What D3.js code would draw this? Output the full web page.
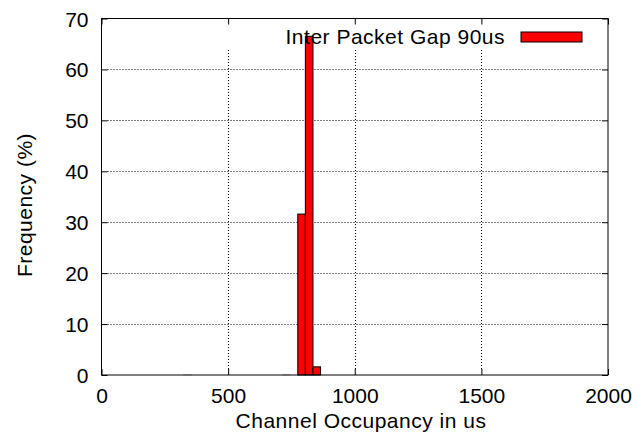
<!DOCTYPE html>
<html>
<head>
<meta charset="utf-8">
<script src="https://cdn.jsdelivr.net/npm/d3@7"></script>
<style>
  body { margin: 0; background: #fff; }
  text { font-family: "Liberation Sans", Arial, sans-serif; font-size: 21px; fill: #000; }
  .lbl { letter-spacing: 0.5px; }
</style>
</head>
<body>
<svg id="chart" width="639" height="446"></svg>
<script>
// histogram bins (centre of bin, us) and frequency in %
var binCenters = [340, 730, 790, 820, 850];
var freq = [0.05, 0.05, 31.6, 66.5, 1.6];
var binWidth = 30;
var xTicks = [0, 500, 1000, 1500, 2000];
var yTicks = [0, 10, 20, 30, 40, 50, 60, 70];
var seriesName = "Inter Packet Gap 90us";

var svg = d3.select("#chart");
var mLeft = 101.5, mRight = 608, mTop = 18.5, mBottom = 375;
var tick = 6;

var x = d3.scaleLinear().domain([0, 2000]).range([mLeft, mRight]);
var y = d3.scaleLinear().domain([0, 70]).range([mBottom, mTop]);

// grid
var grid = svg.append("g")
  .attr("stroke", "#000")
  .attr("stroke-width", 1)
  .attr("stroke-dasharray", "1,2");
grid.selectAll(".hg").data(yTicks.slice(1, -1)).enter().append("line")
  .attr("x1", mLeft + tick).attr("x2", mRight - tick)
  .attr("y1", function(d) { return Math.round(y(d)) + 0.5 })
  .attr("y2", function(d) { return Math.round(y(d)) + 0.5 });
// vertical grid stops under the key
grid.selectAll(".vg").data(xTicks.slice(1, -1)).enter().append("line")
  .attr("x1", function(d) { return Math.round(x(d)) + 0.5 })
  .attr("x2", function(d) { return Math.round(x(d)) + 0.5 })
  .attr("y1", mBottom - tick).attr("y2", mTop + 30);

// bars
svg.append("g").selectAll("rect").data(freq).enter().append("rect")
  .attr("x", function(d, i) { return x(binCenters[i] - binWidth / 2) })
  .attr("width", function(d, i) { return x(binCenters[i] + binWidth / 2) - x(binCenters[i] - binWidth / 2) })
  .attr("y", function(d) { return y(d) })
  .attr("height", function(d) { return y(0) - y(d) })
  .attr("fill", "#ff0000")
  .attr("stroke", function(d) { return d < 1 ? "#ccc" : "#000" })
  .attr("stroke-width", 1);

// axes with inward ticks on all four sides
var xAxis = svg.append("g").attr("transform", "translate(0," + mBottom + ")")
  .call(d3.axisBottom(x).tickValues(xTicks).tickSize(-tick).tickFormat(d3.format("d")));
svg.append("g").attr("transform", "translate(0," + mTop + ")")
  .call(d3.axisTop(x).tickValues(xTicks).tickSize(-tick).tickFormat(""));
var yAxis = svg.append("g").attr("transform", "translate(" + mLeft + ",0)")
  .call(d3.axisLeft(y).tickValues(yTicks).tickSize(-tick));
svg.append("g").attr("transform", "translate(" + mRight + ",0)")
  .call(d3.axisRight(y).tickValues(yTicks).tickSize(-tick).tickFormat(""));

svg.selectAll(".domain").remove();
svg.selectAll(".tick line").attr("stroke", "#000");
svg.selectAll("g[font-size]").attr("font-size", null).attr("font-family", null);
xAxis.selectAll(".tick text").attr("dy", null).attr("y", 28);
yAxis.selectAll(".tick text").attr("x", -13).attr("dy", "0.36em");

// border
svg.append("rect")
  .attr("x", mLeft).attr("y", mTop)
  .attr("width", mRight - mLeft).attr("height", mBottom - mTop)
  .attr("fill", "none").attr("stroke", "#000").attr("stroke-width", 1);

// axis labels
svg.append("text")
  .attr("class", "lbl")
  .attr("x", 361).attr("y", 428)
  .attr("text-anchor", "middle")
  .text("Channel Occupancy in us");
svg.append("text")
  .attr("class", "lbl")
  .attr("transform", "translate(32,205) rotate(-90)")
  .attr("text-anchor", "middle")
  .text("Frequency (%)");

// key
var key = svg.append("g");
key.append("text")
  .attr("class", "lbl")
  .attr("x", 505).attr("y", 43.5)
  .attr("text-anchor", "end")
  .text(seriesName);
key.append("rect")
  .attr("x", 521).attr("y", 32)
  .attr("width", 61).attr("height", 10)
  .attr("fill", "#ff0000").attr("stroke", "#000").attr("stroke-width", 1);
</script>
</body>
</html>
